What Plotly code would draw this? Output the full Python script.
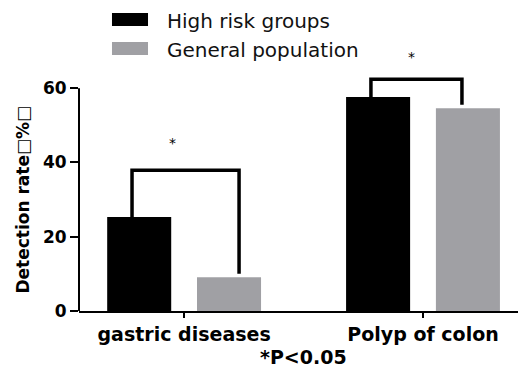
import plotly.graph_objects as go

categories = ["gastric diseases", "Polyp of colon"]
series_names = ["High risk groups", "General population"]
high_risk = [25.3, 57.6]
general = [9.1, 54.6]
bracket_level = [37.9, 62.4]
star_level = [45.2, 68.3]
y_ticks = [0, 20, 40, 60]
note = "*P<0.05"
y_title = "Detection rate\u25a1%\u25a1"

colors = ["#000000", "#a0a0a4"]
bar_w = 0.268
offsets = [-0.322, 0.054]

fig = go.Figure()
for name, vals, col, off in zip(series_names, [high_risk, general], colors, offsets):
    fig.add_trace(go.Bar(x=categories, y=vals, name=name, marker_color=col,
                         marker_line_width=0, width=bar_w, offset=off,
                         showlegend=False))

shapes = []
annotations = []
# y axis line (0..60)
shapes.append(dict(type="line", xref="paper", yref="y", x0=0, x1=0, y0=0, y1=y_ticks[-1],
                   line=dict(color="black", width=2)))
# significance brackets
left_leg = -0.218
right_leg = [0.23, 0.163]
for i, cat in enumerate(categories):
    xl = i + left_leg
    xr = i + right_leg[i]
    top = bracket_level[i]
    shapes.append(dict(type="path", xref="x", yref="y",
                       path=f"M {xl},{high_risk[i]} L {xl},{top} L {xr},{top} L {xr},{general[i] + 0.9}",
                       line=dict(color="black", width=3.5)))
    annotations.append(dict(x=i - 0.05, y=star_level[i], xref="x", yref="y", text="*",
                            showarrow=False, font=dict(size=14, color="black", family="DejaVu Sans")))

# custom legend
rows_y = [1.121, 1.0096]
for name, col, ry in zip(series_names, colors, rows_y):
    shapes.append(dict(type="rect", xref="paper", yref="paper", x0=0.0748, x1=0.1565,
                       y0=ry - 0.025, y1=ry + 0.025, fillcolor=col, line=dict(width=0)))
    annotations.append(dict(x=0.195, y=ry - 0.006, xref="paper", yref="paper", text=name,
                            showarrow=False, xanchor="left", yanchor="middle",
                            font=dict(size=20, color="#111", family="DejaVu Sans")))

# y title
annotations.append(dict(x=-0.127, y=30, xref="paper", yref="y", text=f"<b>{y_title}</b>",
                        textangle=-90, showarrow=False, xanchor="center", yanchor="middle",
                        font=dict(size=17, color="black", family="DejaVu Sans")))
# note
annotations.append(dict(x=0.508, y=-0.177, xref="paper", yref="paper", text=f"<b>{note}</b>",
                        showarrow=False, xanchor="center", yanchor="middle",
                        font=dict(size=19, color="black", family="DejaVu Sans")))

# page body adds an 8px offset, so the figure is 8px smaller in each direction
fig.update_layout(
    width=518, height=361,
    margin=dict(l=71, r=6, t=43, b=58),
    plot_bgcolor="white", paper_bgcolor="white",
    barmode="overlay",
    shapes=shapes, annotations=annotations,
    xaxis=dict(range=[-0.44, 1.406], showline=True, linecolor="black", linewidth=2,
               ticks="outside", ticklen=5, tickwidth=2, tickcolor="black",
               showgrid=False, zeroline=False,
               tickfont=dict(size=19, color="black", family="DejaVu Sans"),
               ticktext=[f"<b>{c}</b>" for c in categories], tickvals=categories),
    yaxis=dict(range=[0, 70], showline=False, tickvals=y_ticks,
               ticktext=[f"<b>{v}</b>" for v in y_ticks],
               ticks="outside", ticklen=8, tickwidth=2, tickcolor="black",
               showgrid=False, zeroline=False,
               tickfont=dict(size=17, color="black", family="DejaVu Sans")),
)

fig.write_html("out.html")
